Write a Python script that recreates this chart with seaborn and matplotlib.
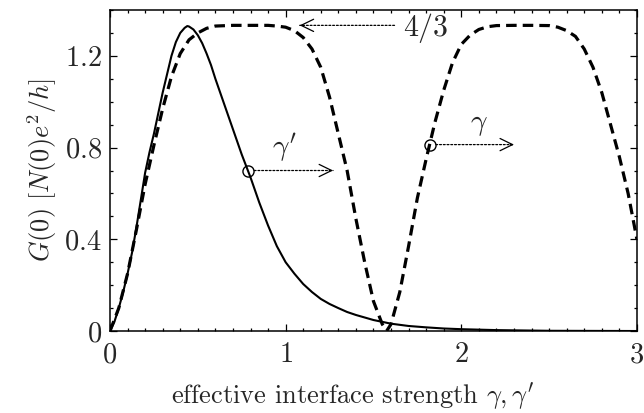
import numpy as np
import pandas as pd
import matplotlib
matplotlib.use("Agg")
import matplotlib.pyplot as plt
import seaborn as sns
from matplotlib.ticker import MultipleLocator, FuncFormatter

# Conductance G(0) versus effective interface strength
gamma_p = [0, 0.025, 0.05, 0.075, 0.10, 0.125, 0.15, 0.175, 0.20, 0.225, 0.25,
           0.275, 0.30, 0.325, 0.35, 0.375, 0.40, 0.425, 0.44, 0.45, 0.475,
           0.50, 0.525, 0.55, 0.575, 0.60, 0.65, 0.70, 0.75, 0.80, 0.85, 0.90,
           0.95, 1.00, 1.05, 1.10, 1.15, 1.20, 1.25, 1.30, 1.35, 1.40, 1.50,
           1.60, 1.70, 1.80, 1.90, 2.00, 2.20, 2.50, 3.00]
g_solid = [0, 0.04, 0.10, 0.17, 0.25, 0.34, 0.45, 0.57, 0.69, 0.78, 0.86,
           0.95, 1.04, 1.12, 1.20, 1.26, 1.30, 1.322, 1.33, 1.328, 1.315,
           1.29, 1.255, 1.21, 1.16, 1.10, 0.99, 0.88, 0.77, 0.67, 0.56, 0.46,
           0.37, 0.30, 0.25, 0.205, 0.17, 0.14, 0.118, 0.10, 0.083, 0.07, 0.048,
           0.032, 0.022, 0.016, 0.011, 0.008, 0.004, 0.001, 0.0]

gamma = [0, 0.05, 0.10, 0.15, 0.20, 0.25, 0.30, 0.35, 0.40, 0.45, 0.50, 0.55,
         0.60, 0.70, 0.80, 0.90, 0.95, 1.00, 1.05, 1.10, 1.15, 1.20, 1.25,
         1.30, 1.35, 1.40, 1.45, 1.50, 1.55, 1.575, 1.60, 1.65, 1.70, 1.75,
         1.80, 1.85, 1.90, 1.95, 2.00, 2.05, 2.10, 2.15, 2.20, 2.30, 2.40,
         2.50, 2.55, 2.60, 2.65, 2.70, 2.75, 2.80, 2.85, 2.90, 2.95, 3.00]
g_dashed = [0, 0.10, 0.25, 0.44, 0.64, 0.81, 0.97, 1.11, 1.21, 1.27, 1.30, 1.32,
            1.33, 1.333, 1.333, 1.333, 1.33, 1.325, 1.31, 1.28, 1.23, 1.15, 1.02,
            0.86, 0.70, 0.49, 0.30, 0.13, 0.03, 0.0, 0.03, 0.17, 0.37, 0.58,
            0.75, 0.91, 1.05, 1.17, 1.25, 1.29, 1.315, 1.327, 1.332, 1.333, 1.333,
            1.332, 1.325, 1.31, 1.285, 1.23, 1.15, 1.04, 0.90, 0.76, 0.60, 0.40]

# Marked points with arrows pointing along increasing strength
mark_prime = (0.786, 0.70)
arrow_prime = (1.27, 0.70)
label_prime = (0.995, 0.80)
mark_gamma = (1.82, 0.813)
arrow_gamma = (2.30, 0.813)
label_gamma = (2.10, 0.90)
plateau_tip = (1.08, 1.333)
plateau_tail = (1.62, 1.333)
plateau_label = (1.80, 1.32)

sns.set_theme(style="ticks")
plt.rcParams.update({
    "font.family": "serif",
    "font.serif": ["cmr10", "DejaVu Serif"],
    "mathtext.fontset": "cm",
    "axes.formatter.use_mathtext": True,
    "axes.unicode_minus": False,
    "font.size": 19,
})

fig = plt.figure(figsize=(6.44, 4.13), dpi=100)
ax = fig.add_axes([0.1708, 0.1985, 0.8182, 0.7773])

df_s = pd.DataFrame({"x": gamma_p, "G": g_solid})
df_d = pd.DataFrame({"x": gamma, "G": g_dashed})
sns.lineplot(data=df_s, x="x", y="G", ax=ax, color="black", lw=1.5,
             estimator=None, sort=False)
sns.lineplot(data=df_d, x="x", y="G", ax=ax, color="black", lw=2.3,
             estimator=None, sort=False)
ax.lines[-1].set_dashes([3.3, 1.9])

ax.set_xlim(0, 3)
ax.set_ylim(0, 1.4)
ax.xaxis.set_major_locator(MultipleLocator(1))
ax.xaxis.set_minor_locator(MultipleLocator(0.1))
ax.yaxis.set_major_locator(MultipleLocator(0.4))
ax.yaxis.set_minor_locator(MultipleLocator(0.1))
fmt = FuncFormatter(lambda v, p: "$%g$" % round(v, 2))
ax.xaxis.set_major_formatter(fmt)
ax.yaxis.set_major_formatter(fmt)
ax.tick_params(which="both", direction="in", top=True, right=True,
               labelsize=20.5, color="black", width=0.9)
ax.tick_params(which="major", length=5)
ax.tick_params(axis="x", which="major", pad=8)
ax.tick_params(axis="y", which="major", pad=6)
ax.tick_params(which="minor", length=2.5)
for s in ax.spines.values():
    s.set_linewidth(1.1)
    s.set_color("black")

ax.set_xlabel(r"effective interface strength $\gamma, \gamma^\prime$",
              fontsize=19)
ax.xaxis.set_label_coords(0.46, -0.155)
ax.set_ylabel(r"$G(0)\ [N(0)e^2/h]$", fontsize=19, labelpad=4)


def dotted_arrow(start, end):
    ax.annotate("", xy=end, xytext=start,
                arrowprops=dict(arrowstyle="-", linestyle=(0, (1.5, 1.5)),
                                lw=0.9, color="black", shrinkA=0, shrinkB=0))
    dx = (end[0] - start[0]) * 0.04
    ax.annotate("", xy=end, xytext=(end[0] - dx, end[1]),
                arrowprops=dict(arrowstyle="->,head_length=0.45,head_width=0.22",
                                lw=0.9, color="black", mutation_scale=20,
                                shrinkA=0, shrinkB=0))


for mk in (mark_prime, mark_gamma):
    ax.plot([mk[0]], [mk[1]], marker="o", ms=8, mfc="none", mec="black",
            mew=1.0, zorder=5)

dotted_arrow((mark_prime[0] + 0.035, mark_prime[1]), arrow_prime)
dotted_arrow((mark_gamma[0] + 0.035, mark_gamma[1]), arrow_gamma)
dotted_arrow(plateau_tail, plateau_tip)

ax.text(*label_prime, r"$\gamma^\prime$", fontsize=21, ha="center", va="center")
ax.text(*label_gamma, r"$\gamma$", fontsize=21, ha="center", va="center")
ax.text(*plateau_label, r"$4/3$", fontsize=21.5, ha="center", va="center")

fig.savefig("out.png", dpi=100)
